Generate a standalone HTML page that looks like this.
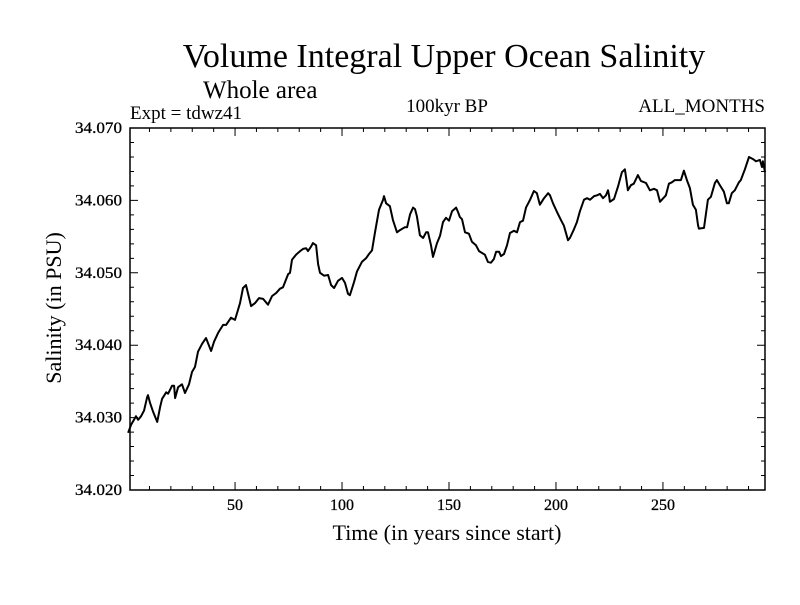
<!DOCTYPE html>
<html><head><meta charset="utf-8"><style>
body{margin:0;background:#fff}
svg text{font-family:"Liberation Serif",serif;fill:#000}
</style></head><body>
<svg id="chart" width="800" height="600" viewBox="0 0 800 600" xmlns="http://www.w3.org/2000/svg">
<rect width="800" height="600" fill="#fff"/>
<text x="444" y="67" font-size="34" text-anchor="middle">Volume Integral Upper Ocean Salinity</text>
<text x="203" y="98" font-size="25">Whole area</text>
<text x="130" y="119" font-size="19">Expt = tdwz41</text>
<text x="447" y="112" font-size="19" text-anchor="middle">100kyr BP</text>
<text x="765" y="112" font-size="19" text-anchor="end">ALL_MONTHS</text>
<text transform="translate(61,308) rotate(-90)" font-size="22" text-anchor="middle">Salinity (in PSU)</text>
<text x="447" y="540" font-size="22" text-anchor="middle">Time (in years since start)</text>
<g id="axes"></g>
<g id="series"></g>
</svg>
<script>
const years=[0,1.4,3.7,4.7,6.1,7.5,8.9,9.3,10.3,11.7,13.6,15.0,15.9,17.8,18.7,20.6,21.5,22.0,23.4,25.2,26.6,28.5,29.9,31.3,32.7,34.6,36.4,38.8,40.2,42.1,44.4,45.8,48.1,50.0,52.3,53.7,55.1,57.5,59.3,61.2,63.1,65.4,67.3,69.2,71.0,72.4,74.8,75.7,76.6,78.5,80.4,81.8,83.2,84.1,85.5,86.4,87.9,88.8,89.7,91.6,93.5,94.9,96.3,98.1,100,101.4,102.8,103.7,105.6,107.0,109.3,111.2,112.6,114.0,115.4,117.3,119.2,119.6,120.6,122.4,123.8,125.7,127.1,129.4,130.4,131.8,133.2,134.1,135.0,136.4,137.9,139.3,140.2,141.6,142.5,144.4,145.8,147.2,148.6,150,151.4,153.3,154.2,155.1,156.1,157.5,159.3,160.7,162.6,164.0,166.8,168.2,169.6,171.0,172.0,173.4,174.3,175.7,177.1,178.5,180.4,181.8,183.2,184.6,186.0,187.9,189.7,191.1,192.5,194.4,196.3,197.2,198.6,200.5,202.3,203.7,205.6,206.5,208.4,209.8,211.2,213.1,214.5,215.9,217.8,219.2,220.6,222.0,223.4,224.3,224.8,225.2,227.1,229.0,230.8,232.2,233.6,235.0,236.4,238.3,239.7,242.1,243.9,245.8,247.2,248.6,249.5,251.4,252.8,254.2,255.6,258.4,259.8,261.2,262.6,264.0,265.4,266.4,266.8,269.2,271.0,272.4,274.3,275.2,276.6,278.5,279.9,280.8,282.2,283.6,285.5,286.4,288.3,290.2,292.1,293.5,295.3,296.3,296.7,297.7];
const salinity=[34.0279,34.0290,34.0302,34.0297,34.0302,34.0310,34.0328,34.0331,34.0320,34.0308,34.0294,34.0315,34.0326,34.0335,34.0333,34.0344,34.0344,34.0327,34.0342,34.0346,34.0334,34.0346,34.0363,34.0370,34.0391,34.0402,34.0410,34.0392,34.0405,34.0417,34.0428,34.0428,34.0438,34.0435,34.0458,34.0479,34.0483,34.0454,34.0458,34.0465,34.0464,34.0456,34.0468,34.0472,34.0478,34.0480,34.0498,34.0500,34.0518,34.0525,34.0530,34.0533,34.0534,34.0530,34.0536,34.0541,34.0538,34.0512,34.0500,34.0496,34.0497,34.0483,34.0479,34.0489,34.0493,34.0486,34.0471,34.0469,34.0487,34.0502,34.0515,34.0520,34.0526,34.0531,34.0556,34.0587,34.0601,34.0606,34.0596,34.0592,34.0573,34.0556,34.0559,34.0563,34.0563,34.0581,34.0590,34.0588,34.0578,34.0552,34.0548,34.0556,34.0556,34.0538,34.0522,34.0541,34.0551,34.0570,34.0576,34.0572,34.0585,34.0590,34.0584,34.0577,34.0574,34.0556,34.0554,34.0543,34.0538,34.0530,34.0525,34.0515,34.0514,34.0519,34.0529,34.0529,34.0523,34.0526,34.0538,34.0555,34.0558,34.0556,34.0570,34.0572,34.0590,34.0601,34.0613,34.0610,34.0594,34.0603,34.0610,34.0607,34.0596,34.0584,34.0573,34.0565,34.0545,34.0548,34.0560,34.0570,34.0585,34.0601,34.0603,34.0601,34.0606,34.0607,34.0609,34.0603,34.0607,34.0614,34.0607,34.0598,34.0602,34.0619,34.0639,34.0643,34.0614,34.0621,34.0623,34.0635,34.0627,34.0624,34.0614,34.0616,34.0614,34.0598,34.0601,34.0607,34.0623,34.0625,34.0628,34.0628,34.0641,34.0628,34.0617,34.0594,34.0587,34.0566,34.0561,34.0562,34.0601,34.0605,34.0624,34.0628,34.0621,34.0612,34.0596,34.0596,34.0610,34.0614,34.0625,34.0628,34.0643,34.0660,34.0657,34.0654,34.0656,34.0646,34.0654,34.0639];
const xTickLabels=[50,100,150,200,250];
const yTickLabels=["34.020","34.030","34.040","34.050","34.060","34.070"];

const L=130,R=765,T=128,B=490,X0=0.9,X1=297.7,Y0=34.020,Y1=34.070;
const sx=v=>L+(v-X0)/(X1-X0)*(R-L);
const sy=v=>B-(v-Y0)/(Y1-Y0)*(B-T);
const NS="http://www.w3.org/2000/svg";
const axes=document.getElementById('axes');
function mk(tag,attrs,parent){const e=document.createElementNS(NS,tag);for(const k in attrs)e.setAttribute(k,attrs[k]);parent.appendChild(e);return e;}

const frame=mk('rect',{x:L,y:T,width:R-L,height:B-T,fill:'none',stroke:'#000','stroke-width':1.5},axes);



for(let yr=10;yr<X1;yr+=10){
  const major=yr%50===0, len=major?8:4, x=sx(yr);
  const t=mk('path',{d:`M${x},${B}v${-len}M${x},${T}v${len}`,stroke:'#000','stroke-width':1},axes);
  
  
}
xTickLabels.forEach(v=>{
  const t=mk('text',{x:sx(v),y:B+20,'font-size':16,'text-anchor':'middle','stroke':'#000','stroke-width':0.3},axes);
  t.textContent=v;
  
  
});
for(let i=0;i<=25;i++){
  const v=Y0+i*0.002, y=sy(v), major=i%5===0, len=major?8:4;
  const t=mk('path',{d:`M${L},${y}h${len}M${R},${y}h${-len}`,stroke:'#000','stroke-width':1},axes);
  
  
}
yTickLabels.forEach(s=>{
  const t=mk('text',{x:L-8,y:sy(parseFloat(s))+5,'font-size':16,'text-anchor':'end','stroke':'#000','stroke-width':0.3,'textLength':47,'lengthAdjust':'spacingAndGlyphs'},axes);
  t.textContent=s;
  
  
});
const d=years.map((yr,i)=>(i?'L':'M')+sx(yr).toFixed(1)+','+sy(salinity[i]).toFixed(1)).join('');
const line=mk('path',{d:d,fill:'none',stroke:'#000','stroke-width':2,'stroke-linejoin':'round'},document.getElementById('series'));


</script>
</body></html>
